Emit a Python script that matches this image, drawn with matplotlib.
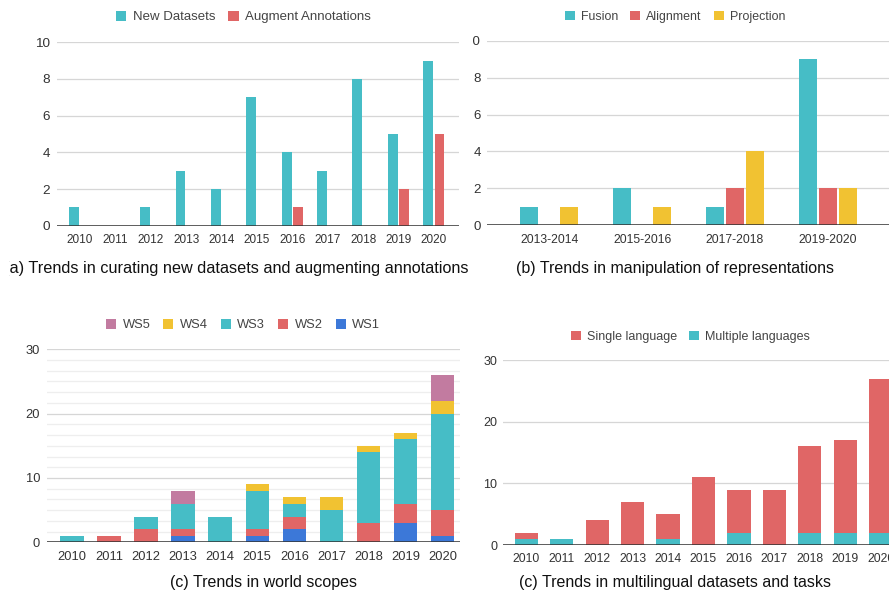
import numpy as np
import matplotlib.pyplot as plt
import matplotlib.patches as patches
from matplotlib.ticker import MultipleLocator
from matplotlib.transforms import Bbox, TransformedBbox

plt.rcParams['font.family'] = ['Liberation Sans', 'DejaVu Sans']

TEAL = '#46BDC6'
RED = '#E06666'
YELLOW = '#F1C232'
BLUE = '#3C78D8'
PINK = '#C27BA0'

# (a) curating datasets
years = ['2010', '2011', '2012', '2013', '2014', '2015', '2016', '2017', '2018', '2019', '2020']
new_datasets = [1, 0, 1, 3, 2, 7, 4, 3, 8, 5, 9]
augment_annotations = [0, 0, 0, 0, 0, 0, 1, 0, 0, 2, 5]

# (b) manipulation of representations
periods = ['2013-2014', '2015-2016', '2017-2018', '2019-2020']
fusion = [1, 2, 1, 9]
alignment = [0, 0, 2, 2]
projection = [1, 1, 4, 2]

# (c) world scopes, stacked bottom to top
ws1 = [0, 0, 0, 1, 0, 1, 2, 0, 0, 3, 1]
ws2 = [0, 1, 2, 1, 0, 1, 2, 0, 3, 3, 4]
ws3 = [1, 0, 2, 4, 4, 6, 2, 5, 11, 10, 15]
ws4 = [0, 0, 0, 0, 0, 1, 1, 2, 1, 1, 2]
ws5 = [0, 0, 0, 2, 0, 0, 0, 0, 0, 0, 4]

# (d) multilingual datasets, stacked bottom to top
multiple_languages = [1, 1, 0, 0, 1, 0, 2, 0, 2, 2, 2]
single_language = [1, 0, 4, 7, 4, 11, 7, 9, 14, 15, 25]

W, H = 889, 595
fig = plt.figure(figsize=(W / 100, H / 100), dpi=100)


def px_axes(left, top, right, bottom):
    return fig.add_axes([left / W, 1 - bottom / H, (right - left) / W, (bottom - top) / H])


def style_axes(ax, ymax, ystep, xsize, ysize, ypad=5):
    for s in ax.spines.values():
        s.set_visible(False)
    ax.set_ylim(0, ymax)
    ax.yaxis.set_major_locator(MultipleLocator(ystep))
    ax.grid(axis='y', which='major', color='#d6d6d6', lw=0.9, zorder=0)
    ax.set_axisbelow(True)
    ax.axhline(0, color='#333333', lw=1.1, zorder=4)
    ax.tick_params(axis='both', length=0, colors='#333333')
    ax.tick_params(axis='x', labelsize=xsize, pad=6)
    ax.tick_params(axis='y', labelsize=ysize, pad=ypad)


def add_legend(ax, labels, colors, cx, cy, size):
    handles = [patches.Patch(facecolor=c, edgecolor='none') for c in colors]
    ax.legend(handles, labels, loc='center', bbox_to_anchor=(cx / W, 1 - cy / H),
              bbox_transform=fig.transFigure, ncol=len(labels), frameon=False,
              fontsize=size, handlelength=0.78, handleheight=0.78, handletextpad=0.5,
              columnspacing=1.0, labelcolor='#444444')


def clip_right_of(artist, xpx):
    artist.set_clip_box(TransformedBbox(Bbox([[xpx / W, 0], [1, 1]]), fig.transFigure))
    artist.set_clip_on(True)


# ---- (a) ----
ax = px_axes(57, 42.3, 459, 225.7)
x = np.arange(len(years))
ax.bar(x - 0.16, new_datasets, 0.28, color=TEAL, zorder=2)
ax.bar(x + 0.16, augment_annotations, 0.28, color=RED, zorder=2)
ax.set_xlim(-0.65, 10.71)
ax.set_xticks(x, years)
style_axes(ax, 10, 2, 8.5, 9.7)
add_legend(ax, ['New Datasets', 'Augment Annotations'], [TEAL, RED], 243.5, 17, 9.5)
t = fig.text(468 / W, 1 - 268 / H, '(a) Trends in curating new datasets and augmenting annotations',
             ha='right', va='center', fontsize=11.7, color='#111111')
clip_right_of(t, 9)

# ---- (b) ----
ax = px_axes(487, 40.7, 890, 225.3)
x = np.arange(len(periods))
ax.bar(x - 0.215, fusion, 0.195, color=TEAL, zorder=2)
ax.bar(x, alignment, 0.195, color=RED, zorder=2)
ax.bar(x + 0.215, projection, 0.195, color=YELLOW, zorder=2)
ax.set_xlim(-0.67, 3.67)
ax.set_xticks(x, periods)
style_axes(ax, 10, 2, 8.7, 9.5, ypad=4.5)
for lab in ax.get_yticklabels():
    clip_right_of(lab, 473)
add_legend(ax, ['Fusion', 'Alignment', 'Projection'], [TEAL, RED, YELLOW], 675, 17, 8.9)
fig.text(675 / W, 1 - 268 / H, '(b) Trends in manipulation of representations',
         ha='center', va='center', fontsize=11.5, color='#111111')

# ---- (c) ----
ax = px_axes(47, 349.3, 460, 542.3)
x = np.arange(len(years))
bottom = np.zeros(len(years))
for vals, col in [(ws1, BLUE), (ws2, RED), (ws3, TEAL), (ws4, YELLOW), (ws5, PINK)]:
    ax.bar(x, vals, 0.63, bottom=bottom, color=col, zorder=2)
    bottom += np.array(vals)
ax.set_xlim(-0.67, 10.47)
ax.set_xticks(x, years)
style_axes(ax, 30, 10, 9.3, 9.3)
ax.yaxis.set_minor_locator(MultipleLocator(10 / 6))
ax.grid(axis='y', which='minor', color='#eeeeee', lw=0.9, zorder=0)
ax.tick_params(axis='y', which='minor', length=0)
add_legend(ax, ['WS5', 'WS4', 'WS3', 'WS2', 'WS1'], [PINK, YELLOW, TEAL, RED, BLUE], 243, 325, 9.3)
fig.text(264 / W, 1 - 583 / H, '(c) Trends in world scopes',
         ha='center', va='center', fontsize=11.5, color='#111111')

# ---- (d) ----
ax = px_axes(503, 360.3, 904, 545)
x = np.arange(len(years))
ax.bar(x, multiple_languages, 0.65, color=TEAL, zorder=2)
ax.bar(x, single_language, 0.65, bottom=multiple_languages, color=RED, zorder=2)
ax.set_xlim(-0.65, 10.65)
ax.set_xticks(x, years)
style_axes(ax, 30, 10, 8.7, 9, ypad=4.3)
add_legend(ax, ['Single language', 'Multiple languages'], [RED, TEAL], 690.5, 337, 9)
fig.text(675 / W, 1 - 583 / H, '(c) Trends in multilingual datasets and tasks',
         ha='center', va='center', fontsize=11.5, color='#111111')

fig.savefig('out.png', dpi=100, facecolor='white')
